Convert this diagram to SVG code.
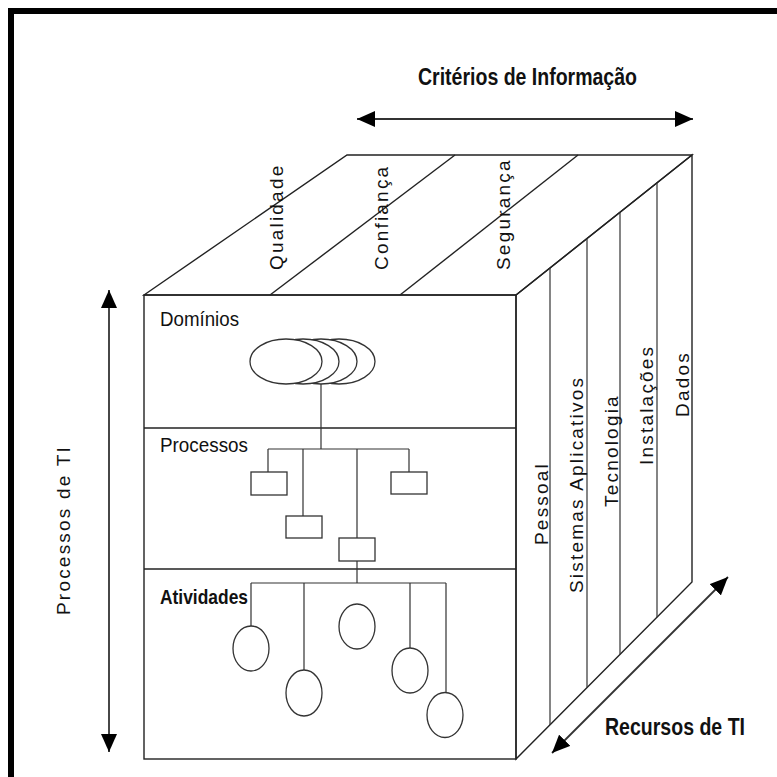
<svg xmlns="http://www.w3.org/2000/svg" width="777" height="777" viewBox="0 0 777 777">
<style>
.bg{fill:#ffffff}
.frame{fill:#000000}
.edge{fill:none;stroke:#222;stroke-width:1.4}
.thin{fill:none;stroke:#333;stroke-width:1.2}
.shape{fill:#fff;stroke:#333;stroke-width:1.3}
.arrow{fill:none;stroke:#333;stroke-width:1.8}
.lbl{font-family:"Liberation Sans",Arial,sans-serif;font-size:21px;fill:#111}
.rot{font-family:"Liberation Sans",Arial,sans-serif;font-size:19px;letter-spacing:2.2px;fill:#111}
.title{font-family:"Liberation Sans",Arial,sans-serif;font-size:23px;fill:#111}
</style>
<defs>
<marker id="ah" viewBox="0 0 18 16" refX="18" refY="8" markerWidth="18" markerHeight="16" markerUnits="userSpaceOnUse" orient="auto-start-reverse">
<path d="M0,0 L18,8 L0,16 z" fill="#000"/>
</marker>
</defs>
<rect class="bg" x="0" y="0" width="777" height="777"/>
<rect class="frame" x="8" y="8" width="6" height="769"/>
<rect class="frame" x="8" y="8" width="769" height="6"/>

<g id="cube">
<polygon class="edge" points="144,295 347,155 692,155 516,295"/>
<polygon class="edge" points="516,295 692,155 692,582 516,759"/>
<rect class="edge" x="144" y="295" width="372" height="464"/>
<line class="edge" x1="144" y1="428" x2="516" y2="428"/>
<line class="edge" x1="144" y1="569" x2="516" y2="569"/>
<line class="edge" x1="270" y1="295" x2="455" y2="155"/>
<line class="edge" x1="400" y1="295" x2="578" y2="155"/>
<line class="thin" x1="550" y1="268" x2="550" y2="725"/>
<line class="thin" x1="587" y1="238.5" x2="587" y2="687.5"/>
<line class="thin" x1="620" y1="212.3" x2="620" y2="654.4"/>
<line class="thin" x1="657" y1="182.8" x2="657" y2="617.2"/>
</g>

<g id="criterios">
<text class="title" x="418" y="85" font-weight="bold" textLength="219" lengthAdjust="spacingAndGlyphs">Critérios de Informação</text>
<text class="rot" transform="translate(283,270) rotate(-90)">Qualidade</text>
<text class="rot" transform="translate(388,270) rotate(-90)">Confiança</text>
<text class="rot" transform="translate(510,270) rotate(-90)">Segurança</text>
</g>

<g id="recursos">
<text class="rot" transform="translate(548,545) rotate(-90)">Pessoal</text>
<text class="rot" transform="translate(583,593) rotate(-90)">Sistemas Aplicativos</text>
<text class="rot" transform="translate(618,507) rotate(-90)">Tecnologia</text>
<text class="rot" transform="translate(653,465) rotate(-90)">Instalações</text>
<text class="rot" transform="translate(689,417) rotate(-90)">Dados</text>
<text class="title" x="605" y="735" font-weight="bold" textLength="140" lengthAdjust="spacingAndGlyphs">Recursos de TI</text>
</g>

<g id="processos-ti">
<text class="rot" transform="translate(70,615) rotate(-90)">Processos de TI</text>
</g>

<g id="dominios">
<text class="lbl" x="160" y="326" textLength="79" lengthAdjust="spacingAndGlyphs">Domínios</text>
<ellipse class="shape" cx="339" cy="361.5" rx="36" ry="22.5"/>
<ellipse class="shape" cx="321" cy="361.5" rx="36" ry="22.5"/>
<ellipse class="shape" cx="303" cy="361.5" rx="36" ry="22.5"/>
<ellipse class="shape" cx="286" cy="361.5" rx="36" ry="22.5"/>
</g>

<g id="processos">
<text class="lbl" x="160" y="452" textLength="88" lengthAdjust="spacingAndGlyphs">Processos</text>
<rect class="shape" x="251" y="472" width="36" height="23"/>
<rect class="shape" x="286" y="516" width="36" height="22"/>
<rect class="shape" x="339" y="538" width="36" height="23"/>
<rect class="shape" x="391" y="472" width="36" height="22"/>
</g>

<g id="atividades">
<text class="lbl" x="160" y="604" font-weight="bold" textLength="88" lengthAdjust="spacingAndGlyphs">Atividades</text>
<ellipse class="shape" cx="251" cy="648.5" rx="18" ry="22.5"/>
<ellipse class="shape" cx="304" cy="693" rx="18" ry="23"/>
<ellipse class="shape" cx="357" cy="626.5" rx="18" ry="22.5"/>
<ellipse class="shape" cx="410" cy="670.5" rx="18" ry="22.5"/>
<ellipse class="shape" cx="445" cy="715" rx="18" ry="22.5"/>
</g>

<g id="connectors">
<path class="thin" d="M321,384 V449 M268,449 H409 M268,449 V472 M303,449 V516 M357,449 V538 M409,449 V472"/>
<path class="thin" d="M357,561 V583 M251,583 H446 M251,583 V626 M304,583 V670 M410,583 V648 M446,583 V692.5"/>
<line class="arrow" x1="357" y1="119" x2="693" y2="119" marker-start="url(#ah)" marker-end="url(#ah)"/>
<line class="arrow" x1="109" y1="290" x2="109" y2="752" marker-start="url(#ah)" marker-end="url(#ah)"/>
<line class="arrow" x1="552" y1="753" x2="728" y2="577" marker-start="url(#ah)" marker-end="url(#ah)"/>
</g>
</svg>
